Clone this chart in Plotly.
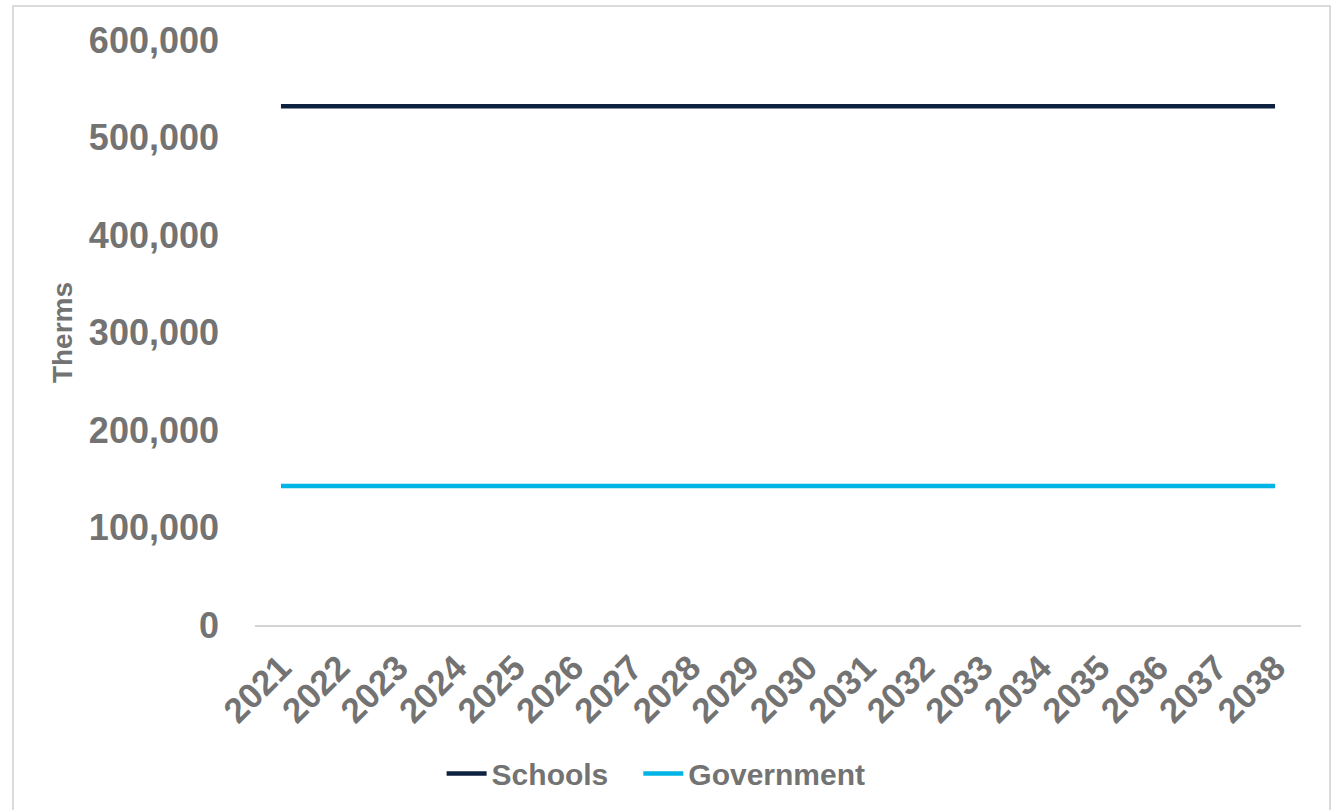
import plotly.graph_objects as go

# Annual natural gas use by sector, in therms
years = ["2021", "2022", "2023", "2024", "2025", "2026", "2027", "2028", "2029",
         "2030", "2031", "2032", "2033", "2034", "2035", "2036", "2037", "2038"]
schools = [532000, 532000, 532000, 532000, 532000, 532000, 532000, 532000, 532000,
           532000, 532000, 532000, 532000, 532000, 532000, 532000, 532000, 532000]
government = [142500, 142500, 142500, 142500, 142500, 142500, 142500, 142500, 142500,
              142500, 142500, 142500, 142500, 142500, 142500, 142500, 142500, 142500]
y_ticks = [0, 100000, 200000, 300000, 400000, 500000, 600000]

FONT = "Arial, Liberation Sans, sans-serif"
GREY = "#737373"
NBSP = "\u00a0"

fig = go.Figure()
# trailing non-breaking spaces widen the gap between the two legend entries
fig.add_trace(go.Scatter(x=years, y=schools, name="Schools" + NBSP * 3, mode="lines",
                         line=dict(color="#0D2240", width=4.5)))
fig.add_trace(go.Scatter(x=years, y=government, name="Government", mode="lines",
                         line=dict(color="#00B4E6", width=4.5)))

W, H = 1339, 810
L, R, T, B = 255, 38, 40, 185
pw, ph = W - L - R, H - T - B


def px_to_paper_x(px):
    return (px - L) / pw


def px_to_paper_y(py):
    return (H - B - py) / ph


# light frame around the whole chart
fig.add_shape(type="rect", xref="paper", yref="paper",
              x0=px_to_paper_x(13), x1=px_to_paper_x(1330),
              y0=px_to_paper_y(815), y1=px_to_paper_y(6),
              line=dict(color="#D0D0D0", width=1.5), fillcolor="rgba(0,0,0,0)",
              layer="below")

fig.update_layout(
    width=W, height=H,
    margin=dict(l=L, r=R, t=T, b=B, autoexpand=False),
    plot_bgcolor="white", paper_bgcolor="white",
    font=dict(family=FONT, color=GREY),
    showlegend=True,
    legend=dict(orientation="h", xref="container", yref="container",
                x=0.49, xanchor="center", y=0.045, yanchor="middle",
                font=dict(size=30, family=FONT, color=GREY, weight="bold"),
                itemwidth=40, tracegroupgap=0),
    xaxis=dict(type="category", range=[-0.444, 17.444], tickangle=-45, showgrid=False,
               showline=True, linecolor="#D3D3D3", linewidth=2,
               ticks="", ticklabelstandoff=6,
               tickfont=dict(size=35, family=FONT, color=GREY, weight="bold")),
    yaxis=dict(range=[0, 600000], tickvals=y_ticks, tickformat=",d",
               showgrid=False, zeroline=False, showline=False, ticks="",
               ticklabelstandoff=35,
               tickfont=dict(size=36, family=FONT, color=GREY, weight="bold"),
               title=dict(text="Therms", standoff=8,
                          font=dict(size=28, family=FONT, color=GREY, weight="bold"))),
)

fig.write_html("out.html")
